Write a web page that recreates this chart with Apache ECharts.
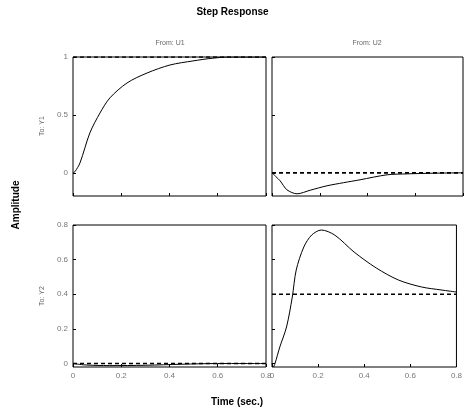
<!DOCTYPE html>
<html><head><meta charset="utf-8">
<script src="https://cdn.jsdelivr.net/npm/echarts@6/dist/echarts.min.js"></script>
<style>html,body{margin:0;padding:0;background:#fff}#c{width:465px;height:417px}</style>
</head><body><div id="c"></div>
<script>
// Tick labels
const xTicks = [0, 0.2, 0.4, 0.6, 0.8];
const yTicksTop = [0, 0.5, 1];
const yTicksBottom = [0, 0.2, 0.4, 0.6, 0.8];

// From U1 -> To Y1
const t11 = [0, 0.008, 0.029, 0.07, 0.112, 0.153, 0.224, 0.307, 0.402, 0.497, 0.58, 0.65, 0.8];
const y11 = [0, 0.01, 0.086, 0.345, 0.517, 0.647, 0.776, 0.862, 0.931, 0.966, 0.99, 1.0, 1.0];
// From U2 -> To Y1
const t12 = [0, 0.015, 0.034, 0.063, 0.105, 0.16, 0.23, 0.3, 0.369, 0.482, 0.566, 0.68, 0.8];
const y12 = [0, -0.03, -0.069, -0.147, -0.181, -0.15, -0.112, -0.085, -0.06, -0.017, -0.009, -0.003, 0];
// From U1 -> To Y2
const t21 = [0, 0.05, 0.15, 0.3, 0.45, 0.6, 0.8];
const y21 = [0, -0.008, -0.012, -0.01, -0.004, 0, 0];
// From U2 -> To Y2
const t22 = [0, 0.006, 0.013, 0.034, 0.063, 0.088, 0.105, 0.138, 0.172, 0.214, 0.272, 0.356, 0.452, 0.549, 0.649, 0.733, 0.8];
const y22 = [0, -0.02, 0.0, 0.096, 0.211, 0.384, 0.54, 0.673, 0.742, 0.771, 0.742, 0.644, 0.552, 0.482, 0.442, 0.425, 0.413];

const finalValues = [1, 0, 0, 0.4];
const colTitles = ['From: U1', 'From: U2'];
const rowTitles = ['To: Y1', 'To: Y2'];

const curves = [[t11, y11], [t12, y12], [t21, y21], [t22, y22]];
const grids = [
  {left: 73, top: 57, width: 193, height: 139},
  {left: 272, top: 57, width: 191, height: 139},
  {left: 73, top: 225, width: 193, height: 142},
  {left: 272, top: 225, width: 191, height: 142}
];
const lbl = {fontFamily: 'Liberation Sans', fontSize: 8, color: '#777'};

const xAxis = grids.map((g, i) => ({
  type: 'value', gridIndex: i, min: 0, max: 0.8, interval: 0.2, position: 'bottom',
  axisLine: {show: false, onZero: false},
  axisTick: {show: true, inside: true, length: 3, lineStyle: {color: '#000'}},
  splitLine: {show: false},
  axisLabel: Object.assign({show: i >= 2, margin: 5, formatter: v => String(v)}, lbl)
}));
const yAxis = grids.map((g, i) => {
  const top = i < 2;
  const vals = top ? yTicksTop : yTicksBottom;
  return {
    type: 'value', gridIndex: i, min: top ? -0.2 : -0.02, max: top ? 1 : 0.8, position: 'left',
    axisLine: {show: false, onZero: false},
    axisTick: {show: true, inside: true, length: 3, customValues: vals, lineStyle: {color: '#000'}},
    splitLine: {show: false},
    axisLabel: Object.assign({show: i % 2 === 0, margin: 5, customValues: vals, formatter: v => String(v)}, lbl)
  };
});

const series = [];
curves.forEach((c, i) => {
  series.push({
    type: 'line', xAxisIndex: i, yAxisIndex: i, showSymbol: false, smooth: 0.3,
    data: c[0].map((t, k) => [t, c[1][k]]),
    lineStyle: {color: '#000', width: 1}, silent: true
  });
  series.push({
    type: 'line', xAxisIndex: i, yAxisIndex: i, showSymbol: false,
    data: [[xTicks[0], finalValues[i]], [xTicks[xTicks.length - 1], finalValues[i]]],
    lineStyle: {color: '#000', width: 1.6, type: [4, 3]}, silent: true
  });
});

const chart = echarts.init(document.getElementById('c'), null, {renderer: 'canvas'});
chart.setOption({
  animation: false,
  backgroundColor: '#fff',
  grid: grids.map(g => Object.assign({show: true, borderColor: '#000', borderWidth: 1, backgroundColor: 'transparent'}, g)),
  xAxis, yAxis, series,
  graphic: [
    {type: 'text', left: 'center', top: 7, style: {text: 'Step Response', fontFamily: 'Liberation Sans', fontWeight: 'bold', fontSize: 10, fill: '#000'}},
    {type: 'text', x: 170, y: 43, style: {text: colTitles[0], align: 'center', verticalAlign: 'middle', fontFamily: 'Liberation Sans', fontSize: 7, fill: '#666'}},
    {type: 'text', x: 367, y: 43, style: {text: colTitles[1], align: 'center', verticalAlign: 'middle', fontFamily: 'Liberation Sans', fontSize: 7, fill: '#666'}},
    {type: 'text', x: 42, y: 126, rotation: Math.PI / 2, style: {text: rowTitles[0], align: 'center', verticalAlign: 'middle', fontFamily: 'Liberation Sans', fontSize: 7, fill: '#666'}},
    {type: 'text', x: 42, y: 296, rotation: Math.PI / 2, style: {text: rowTitles[1], align: 'center', verticalAlign: 'middle', fontFamily: 'Liberation Sans', fontSize: 7, fill: '#666'}},
    {type: 'text', x: 16, y: 205, rotation: Math.PI / 2, style: {text: 'Amplitude', align: 'center', verticalAlign: 'middle', fontFamily: 'Liberation Sans', fontWeight: 'bold', fontSize: 10, fill: '#000'}},
    {type: 'text', x: 237, y: 402, style: {text: 'Time (sec.)', align: 'center', verticalAlign: 'middle', fontFamily: 'Liberation Sans', fontWeight: 'bold', fontSize: 10, fill: '#000'}}
  ]
});
</script></body></html>
